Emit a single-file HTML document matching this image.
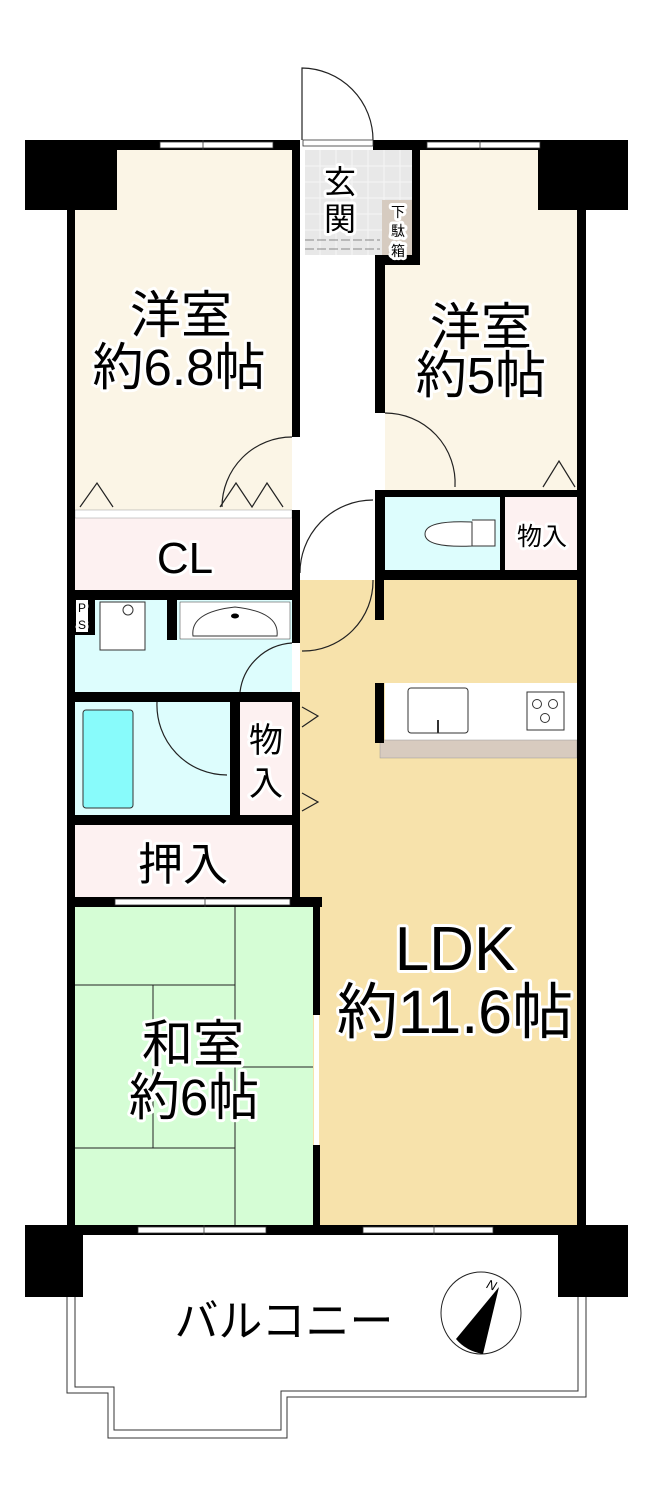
<!DOCTYPE html>
<html><head><meta charset="utf-8"><style>
html,body{margin:0;padding:0;background:#fff}
svg{display:block}
text{font-family:"Liberation Sans","Noto Sans CJK JP",sans-serif;fill:#000;paint-order:stroke;stroke:#fff;stroke-width:6px;stroke-linejoin:round}
</style></head><body>
<svg width="654" height="1505" viewBox="0 0 654 1505" xmlns="http://www.w3.org/2000/svg">
<rect x="75" y="150" width="217" height="360" fill="#fbf5e6"/>
<rect x="385" y="150" width="192" height="340" fill="#fbf5e6"/>
<rect x="305" y="150" width="107" height="105" fill="#e8e8e8"/>
<g stroke="#f6f6f6" stroke-width="1">
<path d="M320 150V255M336 150V255M352 150V255M368 150V255M384 150V255M400 150V255M305 166H412M305 182H412M305 198H412M305 214H412M305 230H412"/>
</g>
<rect x="382" y="200" width="30" height="62" fill="#d6cbc0"/>
<path d="M305 240H380M305 249H380" stroke="#888" stroke-dasharray="9 3" fill="none"/>
<rect x="75" y="518" width="217" height="72" fill="#fdf1f1"/>
<rect x="75" y="510" width="217" height="8" fill="#fff" stroke="#999" stroke-width=".5"/>
<rect x="385" y="497" width="115" height="73" fill="#ddfdfd"/>
<rect x="505" y="497" width="72" height="73" fill="#fdf1f1"/>
<rect x="300" y="580" width="277" height="645" fill="#f7e2ab"/>
<rect x="75" y="600" width="217" height="92" fill="#ddfdfd"/>
<rect x="75" y="702" width="155" height="113" fill="#ddfdfd"/>
<rect x="83" y="710" width="50" height="98" rx="3" fill="#88fbfb" stroke="#333"/>
<rect x="240" y="702" width="52" height="113" fill="#fdf1f1"/>
<rect x="75" y="825" width="217" height="72" fill="#fdf1f1"/>
<rect x="75" y="907" width="238" height="318" fill="#d5fdd5"/>
<g stroke="#222" stroke-width="1" fill="none">
<path d="M235 907V1225M75 985H235M153 985V1148M75 1148H235M235 1067H313"/>
</g>
<rect x="100" y="602" width="45" height="48" fill="#fff" stroke="#333"/>
<circle cx="128" cy="610" r="5" fill="#fff" stroke="#333"/>
<rect x="180" y="602" width="110" height="37" fill="#fff" stroke="#333" stroke-width=".5"/>
<path d="M193 636Q190 612 235 607Q280 612 277 636Z" fill="#fff" stroke="#333"/>
<ellipse cx="235" cy="616" rx="4" ry="2.5" fill="#000"/>
<path d="M472 520H495V546H472" fill="#fff" stroke="#333"/>
<path d="M472 522Q425 520 425 534Q425 548 472 546Z" fill="#fff" stroke="#333"/>
<rect x="385" y="683" width="192" height="57" fill="#fff"/>
<rect x="380" y="740" width="197" height="18" fill="#d8cbbf" stroke="#999" stroke-width=".5"/>
<rect x="408" y="688" width="60" height="45" rx="3" fill="#fff" stroke="#333"/>
<path d="M438 720V733" stroke="#333" stroke-width="2"/>
<rect x="527" y="692" width="37" height="38" fill="#fff" stroke="#333"/>
<g fill="#fff" stroke="#333"><circle cx="537" cy="704" r="4.5"/><circle cx="553" cy="704" r="4.5"/><circle cx="545" cy="718" r="4.5"/></g>
<g fill="none" stroke="#222" stroke-width="1.2">
<path d="M302 140V68A72 72 0 0 1 373 140"/>
<path d="M292 437A70 70 0 0 0 222 507"/>
<path d="M385 413A70 70 0 0 1 455 487"/>
<path d="M373 500A73 73 0 0 0 300 575"/>
<path d="M373 580A70 70 0 0 1 302 651"/>
<path d="M292 643A56 56 0 0 0 240 692"/>
<path d="M157 702A70 70 0 0 0 227 775"/>
<path d="M80 507L97 483L113 507M220 507L236 483L252 507L267 483L283 507M543 487L559 461L575 487"/>
<path d="M302 707L318 716L302 727M302 793L318 802L302 811"/>
</g>
<g fill="#000">
<rect x="25" y="140" width="92" height="70"/>
<rect x="538" y="140" width="90" height="70"/>
<rect x="67" y="140" width="8" height="1095"/>
<rect x="577" y="140" width="9" height="1095"/>
<rect x="67" y="140" width="238" height="10"/>
<rect x="370" y="140" width="216" height="10"/>
<rect x="292" y="140" width="8" height="767"/>
<rect x="412" y="140" width="8" height="125"/>
<rect x="375" y="255" width="45" height="10"/>
<rect x="375" y="255" width="10" height="160"/>
<rect x="375" y="490" width="202" height="7"/>
<rect x="375" y="490" width="10" height="90"/>
<rect x="500" y="490" width="5" height="90"/>
<rect x="375" y="570" width="202" height="10"/>
<rect x="375" y="580" width="9" height="40"/>
<rect x="375" y="683" width="9" height="60"/>
<rect x="67" y="590" width="233" height="10"/>
<rect x="75" y="600" width="20" height="35"/>
<rect x="167" y="600" width="10" height="40"/>
<rect x="67" y="692" width="233" height="10"/>
<rect x="230" y="692" width="10" height="133"/>
<rect x="67" y="815" width="233" height="10"/>
<rect x="67" y="897" width="255" height="10"/>
<rect x="313" y="897" width="7" height="118"/>
<rect x="313" y="1145" width="7" height="90"/>
<rect x="25" y="1225" width="58" height="72"/>
<rect x="558" y="1225" width="70" height="72"/>
<rect x="67" y="1225" width="519" height="10"/>
</g>
<rect x="76" y="600" width="12" height="32" fill="#fff"/>
<g fill="#fff" stroke="#333" stroke-width=".8">
<rect x="160" y="142" width="113" height="6"/>
<rect x="427" y="142" width="113" height="6"/>
<rect x="300" y="140" width="73" height="10" stroke="none"/>
<rect x="303" y="140" width="70" height="6"/>
<rect x="115" y="899" width="175" height="6"/>
<rect x="138" y="1227" width="128" height="6"/>
<rect x="363" y="1227" width="130" height="6"/>
<rect x="292" y="437" width="8" height="73" stroke="none"/>
<rect x="375" y="413" width="10" height="77" stroke="none"/>
<rect x="292" y="643" width="8" height="49" stroke="none"/>
<rect x="300" y="573" width="75" height="7" stroke="none"/>
<rect x="314" y="1015" width="5" height="130" stroke="none"/>
</g>
<g stroke="#333" stroke-width=".8"><path d="M203 140V150M480 140V150M205 897V907M204 1225V1235M434 1225V1235"/></g>
<path d="M67 1297V1393H108V1438H287V1397H586V1297" fill="none" stroke="#333" stroke-width="1"/>
<path d="M75 1297V1387H114V1430H281V1391H578V1297" fill="none" stroke="#333" stroke-width="1"/>
<ellipse cx="481" cy="1313" rx="40" ry="41" fill="#fff" stroke="#222"/>
<path d="M499 1287L456 1339Q466 1351 483 1354Z" fill="#000"/>
<text x="487" y="1290" font-size="13" font-style="italic" style="stroke:none" transform="rotate(20 493 1285)">N</text>
<g text-anchor="middle">
<text x="181" y="333" font-size="51">洋室</text>
<text x="179" y="385" font-size="51">約6.8帖</text>
<text x="481" y="345" font-size="51">洋室</text>
<text x="481" y="393" font-size="51">約5帖</text>
<text x="455" y="970" font-size="62">LDK</text>
<text x="455" y="1033" font-size="61">約11.6帖</text>
<text x="193" y="1062" font-size="51">和室</text>
<text x="194" y="1115" font-size="51">約6帖</text>
<text x="185" y="573" font-size="44">CL</text>
<text x="183" y="880" font-size="45">押入</text>
<text x="284" y="1336" font-size="44">バルコニー</text>
<text x="340" y="193" font-size="32">玄</text>
<text x="340" y="230" font-size="32">関</text>
<text x="542" y="545" font-size="25">物入</text>
<text x="266" y="752" font-size="34">物</text>
<text x="266" y="795" font-size="34">入</text>
</g>
<g font-size="14" text-anchor="middle" style="stroke:none">
<text x="398" y="217">下</text><text x="398" y="236">駄</text><text x="398" y="256">箱</text>
</g>
<g font-size="12" style="stroke:none">
<text x="78" y="612">P</text><text x="78" y="629">S</text>
</g>
</svg>
</body></html>
